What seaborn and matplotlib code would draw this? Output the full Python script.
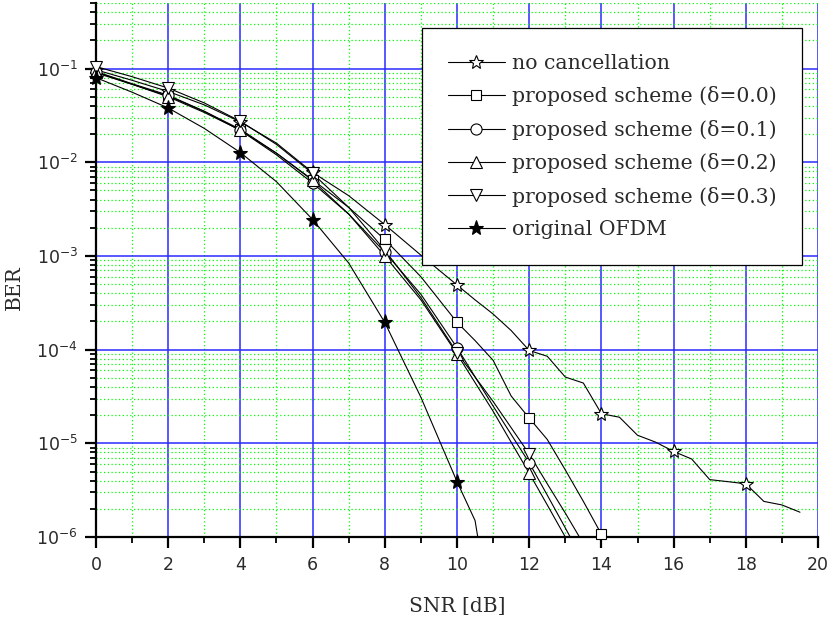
import numpy as np
import pandas as pd
import seaborn as sns
import matplotlib.pyplot as plt
from matplotlib.lines import Line2D
from matplotlib.ticker import MultipleLocator, LogLocator

# BER curves (SNR in dB)
snr_nocan = [0, 1, 2, 3, 4, 5, 6, 7, 8, 9, 10, 10.5, 11, 11.5, 12, 12.5, 13, 13.5, 14,
             14.5, 15, 15.5, 16, 16.5, 17, 17.5, 18, 18.5, 19, 19.5]
ber_nocan = [0.097, 0.075, 0.057, 0.041, 0.027, 0.016, 0.0078, 0.0044, 0.00216, 0.00102,
             4.9e-4, 3.4e-4, 2.4e-4, 1.6e-4, 9.8e-5, 8.5e-5, 5.1e-5, 4.4e-5, 2.07e-5,
             1.9e-5, 1.22e-5, 1.03e-5, 8.2e-6, 6.8e-6, 4.1e-6, 3.9e-6, 3.7e-6, 2.4e-6,
             2.2e-6, 1.84e-6]

snr_d00 = [0, 1, 2, 3, 4, 5, 6, 7, 8, 9, 10, 10.5, 11, 11.5, 12, 12.5, 13, 13.5, 14]
ber_d00 = [0.09, 0.068, 0.051, 0.035, 0.0225, 0.0125, 0.0065, 0.0033, 0.0015, 6e-4,
           1.96e-4, 1.25e-4, 7.7e-5, 3.2e-5, 1.86e-5, 1.1e-5, 5.2e-6, 2.4e-6, 1.07e-6]

snr_d = [0, 1, 2, 3, 4, 5, 6, 7, 8, 9, 10, 11, 12, 12.5, 13, 13.5]
ber_d01 = [0.093, 0.069, 0.052, 0.035, 0.0219, 0.012, 0.006, 0.0028, 0.0011, 3.9e-4,
           1.05e-4, 2.5e-5, 6.2e-6, 2.8e-6, 1.25e-6, 5.5e-7]
ber_d02 = [0.092, 0.068, 0.05, 0.034, 0.022, 0.0125, 0.0064, 0.0028, 1.0e-3, 3.4e-4,
           9e-5, 2.2e-5, 4.8e-6, 2.2e-6, 1e-6, 4e-7]
ber_d03 = [0.105, 0.082, 0.062, 0.043, 0.0274, 0.0155, 0.0076, 0.0033, 1.15e-3, 3.6e-4,
           9.3e-5, 2.8e-5, 7.7e-6, 3.7e-6, 1.8e-6, 8.5e-7]

snr_ofdm = [0, 1, 2, 3, 4, 5, 6, 7, 8, 9, 10, 10.5, 11]
ber_ofdm = [0.08, 0.056, 0.038, 0.023, 0.0127, 0.0062, 0.00245, 8.4e-4, 1.95e-4, 3.1e-5,
            3.9e-6, 1.5e-6, 1e-7]

labels = ["no cancellation",
          "proposed scheme (\u03b4=0.0)",
          "proposed scheme (\u03b4=0.1)",
          "proposed scheme (\u03b4=0.2)",
          "proposed scheme (\u03b4=0.3)",
          "original OFDM"]

series = [(snr_nocan, ber_nocan), (snr_d00, ber_d00), (snr_d, ber_d01),
          (snr_d, ber_d02), (snr_d, ber_d03), (snr_ofdm, ber_ofdm)]

# marker, size, face colour
styles = [("*", 10.5, "white"), ("s", 7, "white"), ("o", 8, "white"),
          ("^", 8.5, "white"), ("v", 8.5, "white"), ("*", 11, "black")]

frames = []
for lab, (s, b) in zip(labels, series):
    frames.append(pd.DataFrame({"snr": s, "ber": b, "scheme": lab}))
df = pd.concat(frames, ignore_index=True)

sns.set_style("ticks")
plt.rcParams["font.family"] = ["DejaVu Sans"]

fig = plt.figure(figsize=(8.31, 6.23), dpi=100)
ax = fig.add_axes([0.1155, 0.138, 0.8689, 0.857])

handles = []
for lab, (mk, ms, fc) in zip(labels, styles):
    sub = df[df["scheme"] == lab]
    # line through every point
    sns.lineplot(data=sub, x="snr", y="ber", ax=ax, color="black", lw=0.8,
                 estimator=None, sort=True, legend=False)
    # markers every 2 dB, not clipped at the axes edge
    pts = sub[np.isclose(sub["snr"] % 2, 0)]
    sns.lineplot(data=pts, x="snr", y="ber", ax=ax, color="black", lw=0,
                 marker=mk, markersize=ms, markerfacecolor=fc,
                 markeredgecolor="black", markeredgewidth=0.8,
                 estimator=None, legend=False, clip_on=False, zorder=5)
    handles.append(Line2D([], [], color="black", lw=0.8, marker=mk,
                          markersize=ms, markerfacecolor=fc,
                          markeredgecolor="black", markeredgewidth=0.8))

ax.set_yscale("log")
ax.set_xlim(0, 20)
ax.set_ylim(1e-6, 0.5)

ax.xaxis.set_major_locator(MultipleLocator(2))
ax.xaxis.set_minor_locator(MultipleLocator(1))
ax.yaxis.set_major_locator(LogLocator(base=10, numticks=10))
ax.yaxis.set_minor_locator(LogLocator(base=10, subs=np.arange(2, 10), numticks=20))

ax.grid(which="minor", color="#00ff00", lw=0.9, ls=(0, (1, 2)))
ax.grid(which="major", color="#2a2aff", lw=1.1, ls="-")
ax.set_axisbelow(True)

for sp in ["top", "right"]:
    ax.spines[sp].set_visible(False)
for sp in ["left", "bottom"]:
    ax.spines[sp].set_linewidth(1.6)
    ax.spines[sp].set_color("black")

ax.tick_params(which="major", direction="out", length=8, width=1.6,
               color="black", labelsize=12.5, labelcolor="#2b2b2b", pad=6)
ax.tick_params(which="minor", direction="out", length=4.5, width=1.3, color="black")
ax.tick_params(axis="y", which="major", pad=5)

ax.set_xlabel("SNR [dB]", family="DejaVu Serif", fontsize=14.5, color="#2b2b2b",
              labelpad=16)
ax.set_ylabel("BER", family="DejaVu Serif", fontsize=14.5, color="#2b2b2b")
ax.yaxis.set_label_coords(-0.1, 0.468)

leg = ax.legend(handles, labels, loc="upper left", bbox_to_anchor=(0.4515, 0.953),
                borderaxespad=0, frameon=True, fancybox=False, framealpha=1,
                edgecolor="black", prop={"family": "DejaVu Serif", "size": 14.7},
                handlelength=2.8, handletextpad=0.35, borderpad=1.25,
                labelspacing=0.66)
leg.get_frame().set_linewidth(0.9)
for t in leg.get_texts():
    t.set_color("#2b2b2b")

fig.savefig("out.png", dpi=100)
